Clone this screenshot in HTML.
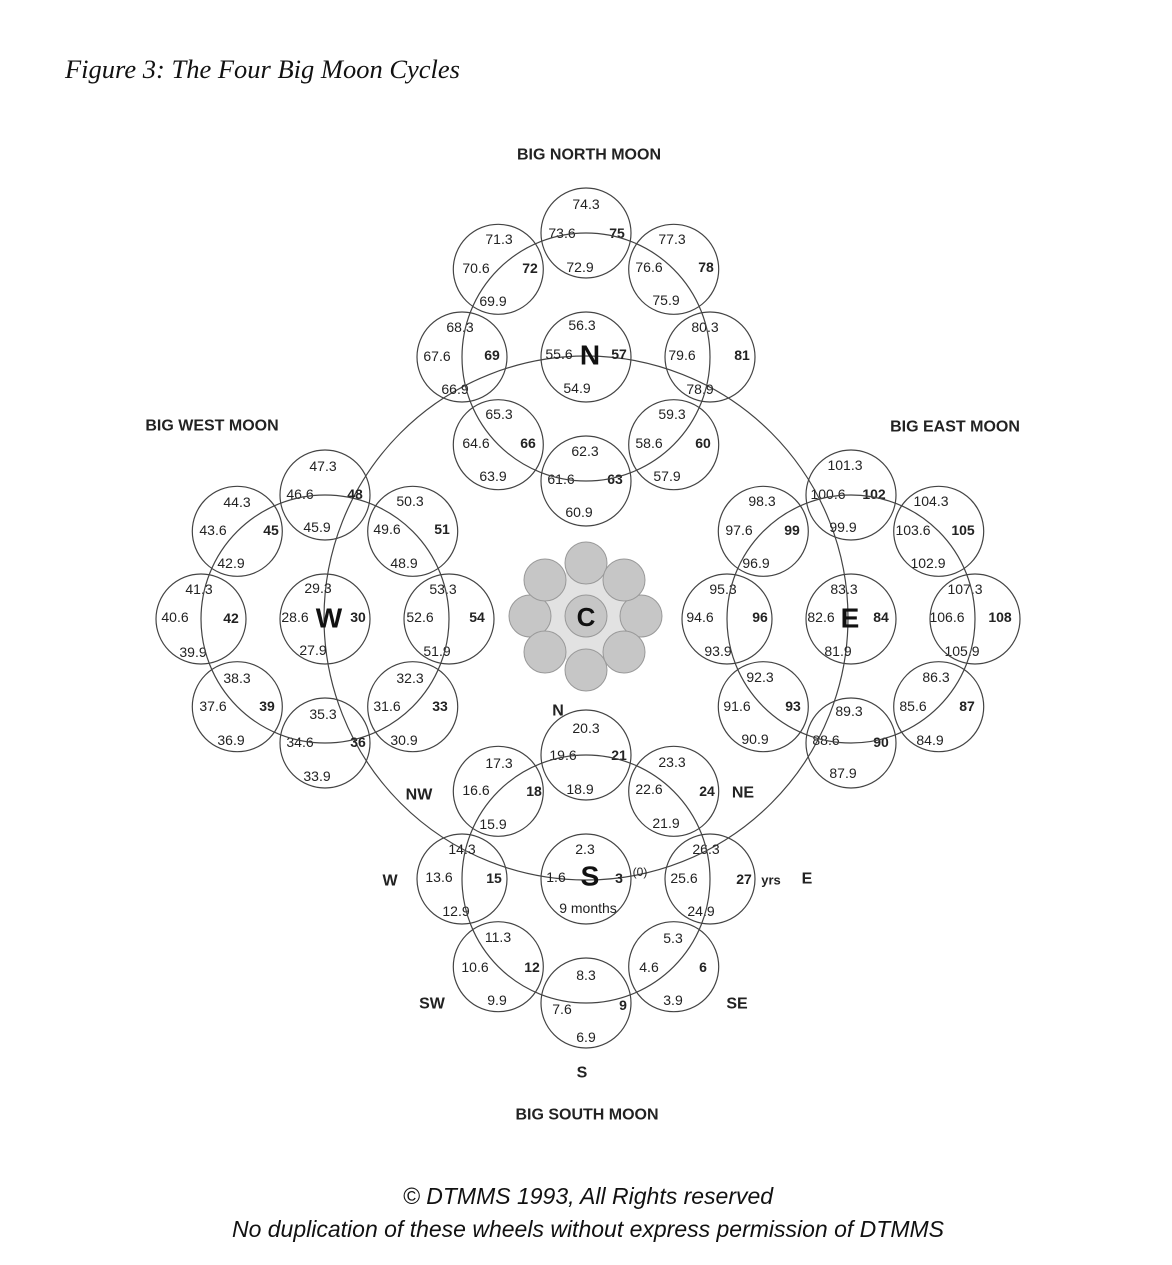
<!DOCTYPE html>
<html><head><meta charset="utf-8"><style>
html,body{margin:0;padding:0;background:#fff;}
svg{display:block;}
.t{font-family:"Liberation Sans",sans-serif;font-size:14px;fill:#222;text-anchor:middle;dominant-baseline:central;}
.b{font-weight:bold;}
.h{font-family:"Liberation Sans",sans-serif;font-size:16px;font-weight:bold;fill:#222;text-anchor:middle;dominant-baseline:central;}
.big{font-family:"Liberation Sans",sans-serif;font-size:28px;font-weight:bold;fill:#111;text-anchor:middle;dominant-baseline:central;}
circle.c{fill:none;stroke:#444;stroke-width:1.2;}
</style></head><body>
<svg width="1172" height="1265" viewBox="0 0 1172 1265" xmlns="http://www.w3.org/2000/svg">
<text x="65" y="78" font-family="Liberation Serif,serif" font-style="italic" font-size="26.5" fill="#111">Figure 3: The Four Big Moon Cycles</text>

<circle class="c" cx="586" cy="618" r="262"/>

<!-- hub -->
<circle cx="586" cy="616" r="48" fill="#e2e2e2"/>
<g stroke="#999" stroke-width="1" fill="#c6c6c6">
<circle cx="586" cy="563" r="21"/><circle cx="586" cy="670" r="21"/>
<circle cx="530" cy="616" r="21"/><circle cx="641" cy="616" r="21"/>
<circle cx="545" cy="580" r="21"/><circle cx="624" cy="580" r="21"/>
<circle cx="545" cy="652" r="21"/><circle cx="624" cy="652" r="21"/>
<circle cx="586" cy="616" r="21"/>
</g>
<text class="big" x="586" y="617" style="font-size:26px">C</text>

<g class="t">
<!-- N wheel -->
<text class="t" x="586" y="204">74.3</text><text class="t" x="562" y="233">73.6</text><text class="t b" x="617" y="233">75</text><text class="t" x="580" y="267">72.9</text>
<text class="t" x="499" y="239">71.3</text><text class="t" x="476" y="268">70.6</text><text class="t b" x="530" y="268">72</text><text class="t" x="493" y="301">69.9</text>
<text class="t" x="672" y="239">77.3</text><text class="t" x="649" y="267">76.6</text><text class="t b" x="706" y="267">78</text><text class="t" x="666" y="300">75.9</text>
<text class="t" x="460" y="327">68.3</text><text class="t" x="437" y="356">67.6</text><text class="t b" x="492" y="355">69</text><text class="t" x="455" y="389">66.9</text>
<text class="t" x="582" y="325">56.3</text><text class="t" x="559" y="354">55.6</text><text class="big" x="590" y="355">N</text><text class="t b" x="619" y="354">57</text><text class="t" x="577" y="388">54.9</text>
<text class="t" x="705" y="327">80.3</text><text class="t" x="682" y="355">79.6</text><text class="t b" x="742" y="355">81</text><text class="t" x="700" y="389">78.9</text>
<text class="t" x="499" y="414">65.3</text><text class="t" x="476" y="443">64.6</text><text class="t b" x="528" y="443">66</text><text class="t" x="493" y="476">63.9</text>
<text class="t" x="585" y="451">62.3</text><text class="t" x="561" y="479">61.6</text><text class="t b" x="615" y="479">63</text><text class="t" x="579" y="512">60.9</text>
<text class="t" x="672" y="414">59.3</text><text class="t" x="649" y="443">58.6</text><text class="t b" x="703" y="443">60</text><text class="t" x="667" y="476">57.9</text>
<!-- W wheel -->
<text class="t" x="323" y="466">47.3</text><text class="t" x="300" y="494">46.6</text><text class="t b" x="355" y="494">48</text><text class="t" x="317" y="527">45.9</text>
<text class="t" x="237" y="502">44.3</text><text class="t" x="213" y="530">43.6</text><text class="t b" x="271" y="530">45</text><text class="t" x="231" y="563">42.9</text>
<text class="t" x="410" y="501">50.3</text><text class="t" x="387" y="529">49.6</text><text class="t b" x="442" y="529">51</text><text class="t" x="404" y="563">48.9</text>
<text class="t" x="199" y="589">41.3</text><text class="t" x="175" y="617">40.6</text><text class="t b" x="231" y="618">42</text><text class="t" x="193" y="652">39.9</text>
<text class="t" x="318" y="588">29.3</text><text class="t" x="295" y="617">28.6</text><text class="big" x="329" y="618">W</text><text class="t b" x="358" y="617">30</text><text class="t" x="313" y="650">27.9</text>
<text class="t" x="443" y="589">53.3</text><text class="t" x="420" y="617">52.6</text><text class="t b" x="477" y="617">54</text><text class="t" x="437" y="651">51.9</text>
<text class="t" x="237" y="678">38.3</text><text class="t" x="213" y="706">37.6</text><text class="t b" x="267" y="706">39</text><text class="t" x="231" y="740">36.9</text>
<text class="t" x="410" y="678">32.3</text><text class="t" x="387" y="706">31.6</text><text class="t b" x="440" y="706">33</text><text class="t" x="404" y="740">30.9</text>
<text class="t" x="323" y="714">35.3</text><text class="t" x="300" y="742">34.6</text><text class="t b" x="358" y="742">36</text><text class="t" x="317" y="776">33.9</text>
<!-- E wheel -->
<text class="t" x="845" y="465">101.3</text><text class="t" x="828" y="494">100.6</text><text class="t b" x="874" y="494">102</text><text class="t" x="843" y="527">99.9</text>
<text class="t" x="762" y="501">98.3</text><text class="t" x="739" y="530">97.6</text><text class="t b" x="792" y="530">99</text><text class="t" x="756" y="563">96.9</text>
<text class="t" x="931" y="501">104.3</text><text class="t" x="913" y="530">103.6</text><text class="t b" x="963" y="530">105</text><text class="t" x="928" y="563">102.9</text>
<text class="t" x="723" y="589">95.3</text><text class="t" x="700" y="617">94.6</text><text class="t b" x="760" y="617">96</text><text class="t" x="718" y="651">93.9</text>
<text class="t" x="844" y="589">83.3</text><text class="t" x="821" y="617">82.6</text><text class="big" x="850" y="618">E</text><text class="t b" x="881" y="617">84</text><text class="t" x="838" y="651">81.9</text>
<text class="t" x="965" y="589">107.3</text><text class="t" x="947" y="617">106.6</text><text class="t b" x="1000" y="617">108</text><text class="t" x="962" y="651">105.9</text>
<text class="t" x="760" y="677">92.3</text><text class="t" x="737" y="706">91.6</text><text class="t b" x="793" y="706">93</text><text class="t" x="755" y="739">90.9</text>
<text class="t" x="936" y="677">86.3</text><text class="t" x="913" y="706">85.6</text><text class="t b" x="967" y="706">87</text><text class="t" x="930" y="740">84.9</text>
<text class="t" x="849" y="711">89.3</text><text class="t" x="826" y="740">88.6</text><text class="t b" x="881" y="742">90</text><text class="t" x="843" y="773">87.9</text>
<!-- S wheel -->
<text class="t" x="586" y="728">20.3</text><text class="t" x="563" y="755">19.6</text><text class="t b" x="619" y="755">21</text><text class="t" x="580" y="789">18.9</text>
<text class="t" x="499" y="763">17.3</text><text class="t" x="476" y="790">16.6</text><text class="t b" x="534" y="791">18</text><text class="t" x="493" y="824">15.9</text>
<text class="t" x="672" y="762">23.3</text><text class="t" x="649" y="789">22.6</text><text class="t b" x="707" y="791">24</text><text class="t" x="666" y="823">21.9</text>
<text class="t" x="462" y="849">14.3</text><text class="t" x="439" y="877">13.6</text><text class="t b" x="494" y="878">15</text><text class="t" x="456" y="911">12.9</text>
<text class="t" x="585" y="849">2.3</text><text class="t" x="556" y="877">1.6</text><text class="big" x="590" y="876">S</text><text class="t b" x="619" y="878">3</text><text class="t" x="640" y="872" style="font-size:12px">(0)</text><text class="t" x="588" y="908">9 months</text>
<text class="t" x="706" y="849">26.3</text><text class="t" x="684" y="878">25.6</text><text class="t b" x="744" y="879">27</text><text class="t b" x="771" y="880" style="font-size:13px">yrs</text><text class="t" x="701" y="911">24.9</text>
<text class="t" x="498" y="937">11.3</text><text class="t" x="475" y="967">10.6</text><text class="t b" x="532" y="967">12</text><text class="t" x="497" y="1000">9.9</text>
<text class="t" x="586" y="975">8.3</text><text class="t" x="562" y="1009">7.6</text><text class="t b" x="623" y="1005">9</text><text class="t" x="586" y="1037">6.9</text>
<text class="t" x="673" y="938">5.3</text><text class="t" x="649" y="967">4.6</text><text class="t b" x="703" y="967">6</text><text class="t" x="673" y="1000">3.9</text>
<!-- compass -->
<text class="h" x="558" y="711">N</text><text class="h" x="419" y="795">NW</text><text class="h" x="743" y="793">NE</text>
<text class="h" x="390" y="881">W</text><text class="h" x="807" y="879">E</text>
<text class="h" x="432" y="1004">SW</text><text class="h" x="737" y="1004">SE</text><text class="h" x="582" y="1073">S</text>
<!-- headings -->
<text class="h" x="589" y="155">BIG NORTH MOON</text>
<text class="h" x="212" y="426">BIG WEST MOON</text>
<text class="h" x="955" y="427">BIG EAST MOON</text>
<text class="h" x="587" y="1115">BIG SOUTH MOON</text>
</g>
<text x="588" y="1196" font-family="Liberation Sans,sans-serif" font-style="italic" font-size="23" fill="#111" text-anchor="middle" dominant-baseline="central">© DTMMS 1993, All Rights reserved</text>
<text x="588" y="1229" font-family="Liberation Sans,sans-serif" font-style="italic" font-size="23" fill="#111" text-anchor="middle" dominant-baseline="central">No duplication of these wheels without express permission of DTMMS</text>

<g id="circles"></g>
<script>
(function(){
var ns="http://www.w3.org/2000/svg",g=document.getElementById("circles");
var W=[[586,357],[325,619],[851,619],[586,879]],R=124,r=45;
function c(x,y,rr){var e=document.createElementNS(ns,"circle");e.setAttribute("cx",x);e.setAttribute("cy",y);e.setAttribute("r",rr);e.setAttribute("class","c");g.appendChild(e);}
W.forEach(function(w){c(w[0],w[1],R);c(w[0],w[1],r);for(var i=0;i<8;i++){var a=i*Math.PI/4;c((w[0]+R*Math.cos(a)).toFixed(1),(w[1]+R*Math.sin(a)).toFixed(1),r);}});
})();
</script>
</svg>
</body></html>
